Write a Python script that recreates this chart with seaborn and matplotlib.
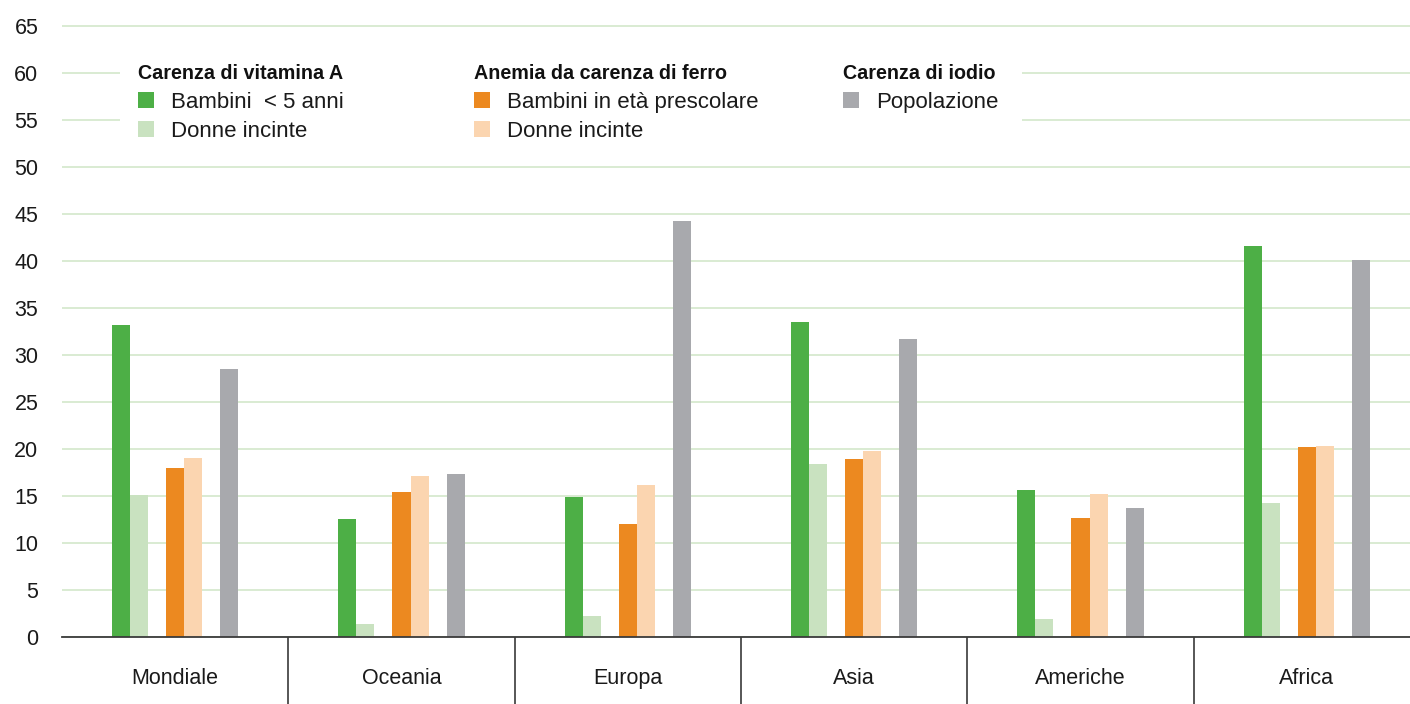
import numpy as np
import pandas as pd
import matplotlib
matplotlib.use("Agg")
import matplotlib.pyplot as plt
from matplotlib.patches import Rectangle
import seaborn as sns

# ---------------- data ----------------
regions = ["Mondiale", "Oceania", "Europa", "Asia", "Americhe", "Africa"]
vitA_bambini = [33.2, 12.6, 14.9, 33.5, 15.6, 41.6]
vitA_donne = [15.1, 1.4, 2.2, 18.4, 1.9, 14.3]
ferro_bambini = [18.0, 15.4, 12.0, 18.9, 12.7, 20.2]
ferro_donne = [19.0, 17.1, 16.2, 19.8, 15.2, 20.3]
iodio_popolazione = [28.5, 17.3, 44.3, 31.7, 13.7, 40.1]
yticks = list(range(0, 70, 5))

group_titles = ["Carenza di vitamina A", "Anemia da carenza di ferro", "Carenza di iodio"]
series_labels = [["Bambini  < 5 anni", "Donne incinte"],
                 ["Bambini in età prescolare", "Donne incinte"],
                 ["Popolazione"]]
group_keys = [["vA_b", "vA_d"], ["fe_b", "fe_d"], ["io"]]

colors = {
    "vA_b": "#4daf46",
    "vA_d": "#c9e2c0",
    "gap1": "#ffffff",
    "fe_b": "#ec8920",
    "fe_d": "#fbd5b0",
    "gap2": "#ffffff",
    "io": "#a8a9ad",
}
hue_order = ["vA_b", "vA_d", "gap1", "fe_b", "fe_d", "gap2", "io"]

series = {"vA_b": vitA_bambini, "vA_d": vitA_donne, "fe_b": ferro_bambini,
          "fe_d": ferro_donne, "io": iodio_popolazione}
rows = []
for key, vals in series.items():
    for reg, v in zip(regions, vals):
        rows.append({"regione": reg, "valore": v, "serie": key})
df = pd.DataFrame(rows)

# ---------------- figure ----------------
sns.set_style("white")
plt.rcParams["font.family"] = ["Liberation Sans", "DejaVu Sans"]

W, H = 1410, 704
fig = plt.figure(figsize=(W / 100, H / 100), dpi=100)

px_per_unit = 611 / 65
ytop = 65.3
y0_px = 637
ax_h_px = ytop * px_per_unit
ax_left_px, ax_right_px = 62, 1420
ax = fig.add_axes([ax_left_px / W, (H - y0_px) / H,
                   (ax_right_px - ax_left_px) / W, ax_h_px / H])

sns.barplot(data=df, x="regione", y="valore", hue="serie", hue_order=hue_order,
            order=regions, palette=colors, width=126 / 226.3, gap=0,
            saturation=1, linewidth=0, legend=False, errorbar=None, ax=ax, zorder=3)

ax.set_ylim(0, ytop)
ax.set_xlim(-0.5, 5.5)
ax.set_yticks(yticks)
ax.set_yticklabels([str(t) for t in yticks])
ax.set_xlabel("")
ax.set_ylabel("")
ax.grid(axis="y", color="#d3e7cb", linewidth=1.2, zorder=0)
ax.grid(axis="x", visible=False)
ax.set_axisbelow(True)
for s in ["left", "right", "top"]:
    ax.spines[s].set_visible(False)
ax.spines["bottom"].set_color("#3a3a3a")
ax.spines["bottom"].set_linewidth(1.3)
ax.spines["bottom"].set_zorder(5)

ax.tick_params(axis="y", length=0, pad=17, labelsize=15.5, labelcolor="#1a1a1a")
ax.tick_params(axis="x", which="major", bottom=True, length=0, pad=22,
               labelsize=15.5, labelcolor="#1a1a1a")
ax.set_xticks(np.arange(0.5, 5.5, 1), minor=True)
ax.tick_params(axis="x", which="minor", bottom=True, length=49, width=1.2,
               color="#3a3a3a", direction="out")

# ---------------- legend (manual) ----------------
def fx(x):
    return x / W

def fy(y):
    return 1 - y / H

fig.patches.append(Rectangle((fx(120), fy(146)), fx(1022) - fx(120), fy(50) - fy(146),
                             transform=fig.transFigure, facecolor="white",
                             edgecolor="none", zorder=1))

cols_x = [138, 474, 843]
title_base = 79
row_base = [108, 137]
sw = 16
for cx, title, keys, labels in zip(cols_x, group_titles, group_keys, series_labels):
    fig.text(fx(cx), fy(title_base), title, ha="left", va="baseline", fontsize=14.2,
             fontweight="bold", color="#111111", zorder=3)
    for ri, (k, lab) in enumerate(zip(keys, labels)):
        yb = row_base[ri]
        fig.patches.append(Rectangle((fx(cx), fy(yb)), fx(sw), sw / H,
                                     transform=fig.transFigure, facecolor=colors[k],
                                     edgecolor="none", zorder=2))
        fig.text(fx(cx + 33), fy(yb), lab, ha="left", va="baseline", fontsize=16,
                 color="#1a1a1a", zorder=3)

fig.savefig("out.png", dpi=100)
